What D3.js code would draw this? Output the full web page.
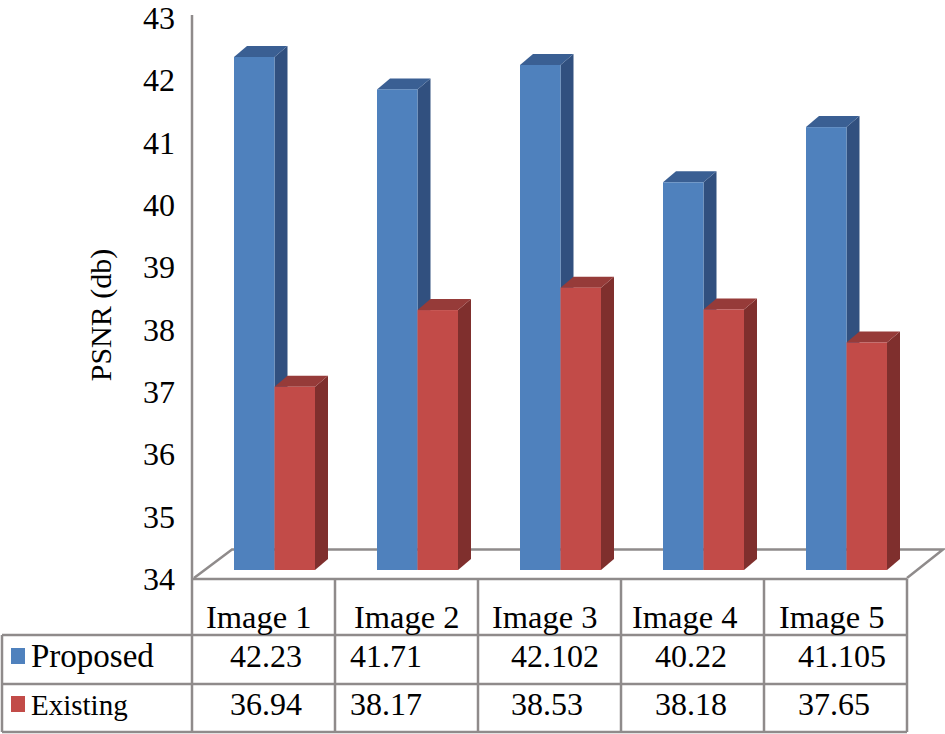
<!DOCTYPE html>
<html><head><meta charset="utf-8">
<script src="https://cdn.jsdelivr.net/npm/d3@7"></script>
<style>html,body{margin:0;padding:0;background:#fff}svg{display:block}text{font-family:"Liberation Serif",serif;fill:#000}</style>
</head><body><svg id="c" width="945" height="734"></svg>
<script>
const categories = ["Image 1","Image 2","Image 3","Image 4","Image 5"];
const seriesNames = ["Proposed","Existing"];
const proposed = [42.23,41.71,42.102,40.22,41.105];
const existing = [36.94,38.17,38.53,38.18,37.65];
const proposedLabels = ["42.23","41.71","42.102","40.22","41.105"];
const existingLabels = ["36.94","38.17","38.53","38.18","37.65"];
const yTicks = [34,35,36,37,38,39,40,41,42,43];

const svg = d3.select("#c");
const grid = "#8f8b8b";
const x = d3.scaleBand().domain(categories).range([192,907]);
const y = d3.scaleLinear().domain([34,43]).range([570,9]);
const yLabel = d3.scaleLinear().domain([34,43]).range([579,18]);
const inner = d3.scaleBand().domain(seriesNames).range([42,123]);
const dx = 13, dy = 11;
const palette = {
  Proposed:{front:"#4f81bd",top:"#3a5f93",side:"#31507f"},
  Existing:{front:"#c24b48",top:"#963b39",side:"#7f2f2d"}
};

// floor
svg.append("path").attr("d","M194,578L232,549.5H943L907,578")
  .attr("fill","none").attr("stroke",grid).attr("stroke-width",2.5);
// value axis line
svg.append("line").attr("x1",192).attr("x2",192).attr("y1",15).attr("y2",732)
  .attr("stroke",grid).attr("stroke-width",2.5);
// value axis labels
svg.append("g").selectAll("text").data(yTicks).join("text")
  .attr("x",175).attr("y",d=>yLabel(d)+11).attr("text-anchor","end")
  .attr("font-size",32).text(d=>d);
svg.append("text").attr("transform","translate(111,315) rotate(-90)")
  .attr("text-anchor","middle").attr("font-size",30).text("PSNR (db)");

// bars
function bars(name, values){
  const p = palette[name], w = inner.bandwidth();
  const g = svg.append("g").selectAll("g").data(values).join("g")
    .attr("transform",(d,i)=>`translate(${x(categories[i])+inner(name)},0)`);
  g.append("path").attr("fill",p.side)
    .attr("d",d=>`M${w},${y(d)}l${dx},${-dy}V${y(34)-dy}l${-dx},${dy}Z`);
  g.append("path").attr("fill",p.top)
    .attr("d",d=>`M0,${y(d)}l${dx},${-dy}h${w}l${-dx},${dy}Z`);
  g.append("rect").attr("fill",p.front).attr("x",0).attr("width",w)
    .attr("y",d=>y(d)).attr("height",d=>y(34)-y(d));
}
bars("Proposed",proposed);
bars("Existing",existing);

// data table
const rowLines = [579,635,684,732];
const line = (x1,y1,x2,y2)=>svg.append("line").attr("x1",x1).attr("y1",y1).attr("x2",x2).attr("y2",y2)
  .attr("stroke",grid).attr("stroke-width",2.5);
line(192,rowLines[0],907,rowLines[0]);
rowLines.slice(1).forEach(v=>line(2,v,907,v));
line(2,635,2,732);
categories.forEach(c=>line(x(c)+x.step(),579,x(c)+x.step(),732));

const catStart = [206,354,492,632,779];
const row1Start = [230,350,511,655,798];
const row2Start = [230,350,511,655,798];
const table = svg.append("g");
table.selectAll(".cat").data(categories).join("text").attr("class","cat")
  .attr("x",(d,i)=>catStart[i]).attr("y",628).attr("font-size",32.5).text(d=>d);
table.selectAll(".r1").data(proposedLabels).join("text").attr("class","r1")
  .attr("x",(d,i)=>row1Start[i]).attr("y",667).attr("font-size",32).text(d=>d);
table.selectAll(".r2").data(existingLabels).join("text").attr("class","r2")
  .attr("x",(d,i)=>row2Start[i]).attr("y",715).attr("font-size",32).text(d=>d);

// legend keys
const legendY = {Proposed:648,Existing:696};
const legendBase = {Proposed:667,Existing:715};
const legendSize = {Proposed:33,Existing:29};
seriesNames.forEach(n=>{
  svg.append("rect").attr("x",11).attr("y",legendY[n]).attr("width",14).attr("height",16).attr("fill",palette[n].front);
  svg.append("text").attr("x",31).attr("y",legendBase[n]).attr("font-size",legendSize[n]).text(n);
});
</script></body></html>
